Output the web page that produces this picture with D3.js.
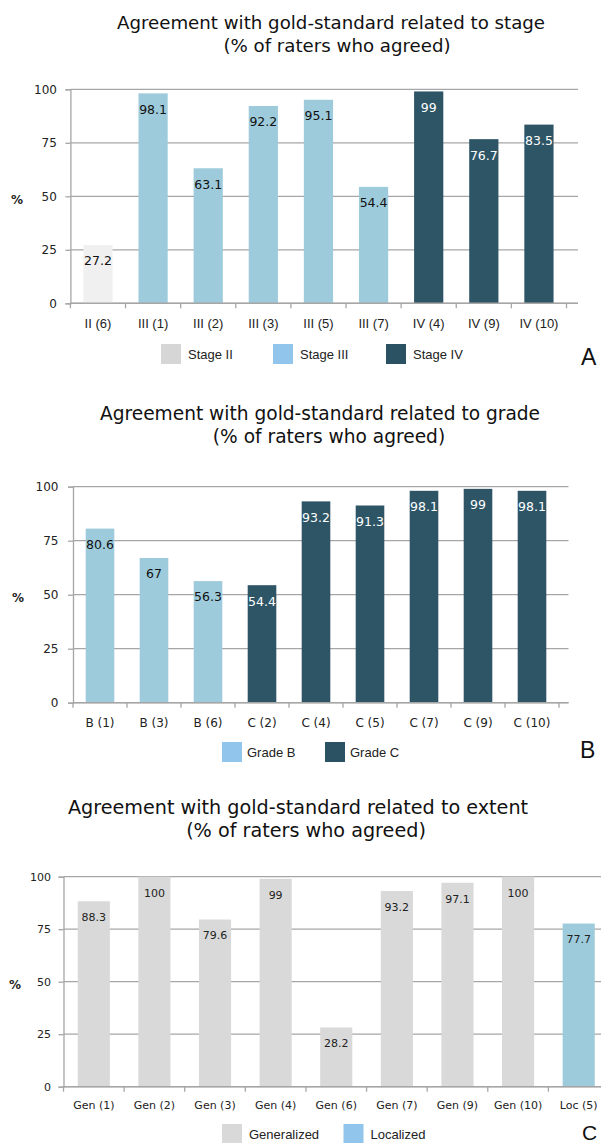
<!DOCTYPE html>
<html>
<head>
<meta charset="utf-8">
<script src="https://cdn.jsdelivr.net/npm/d3@7"></script>
<style>
  html, body { margin: 0; padding: 0; background: #fff; }
  svg { display: block; }
</style>
</head>
<body>
<div id="chart"></div>
<script>
/* Agreement with gold-standard — three bar panels (stage / grade / extent) */

const yTicks = [0, 25, 50, 75, 100];

// Panel A — stage
const stageCats   = ["II (6)", "III (1)", "III (2)", "III (3)", "III (5)", "III (7)", "IV (4)", "IV (9)", "IV (10)"];
const stageValues = [27.2, 98.1, 63.1, 92.2, 95.1, 54.4, 99, 76.7, 83.5];
const stageGroups = ["Stage II", "Stage III", "Stage III", "Stage III", "Stage III", "Stage III", "Stage IV", "Stage IV", "Stage IV"];
const stageLegend = ["Stage II", "Stage III", "Stage IV"];

// Panel B — grade
const gradeCats   = ["B (1)", "B (3)", "B (6)", "C (2)", "C (4)", "C (5)", "C (7)", "C (9)", "C (10)"];
const gradeValues = [80.6, 67, 56.3, 54.4, 93.2, 91.3, 98.1, 99, 98.1];
const gradeGroups = ["Grade B", "Grade B", "Grade B", "Grade C", "Grade C", "Grade C", "Grade C", "Grade C", "Grade C"];
const gradeLegend = ["Grade B", "Grade C"];

// Panel C — extent
const extentCats   = ["Gen (1)", "Gen (2)", "Gen (3)", "Gen (4)", "Gen (6)", "Gen (7)", "Gen (9)", "Gen (10)", "Loc (5)"];
const extentValues = [88.3, 100, 79.6, 99, 28.2, 93.2, 97.1, 100, 77.7];
const extentGroups = ["Generalized", "Generalized", "Generalized", "Generalized", "Generalized", "Generalized", "Generalized", "Generalized", "Localized"];
const extentLegend = ["Generalized", "Localized"];

// colours: bar fill, legend swatch, label colour
const STYLE = {
  "Stage II":    { bar: "#f0f0f0", swatch: "#d6d6d6", label: "#111" },
  "Stage III":   { bar: "#9ecbdb", swatch: "#92c5ec", label: "#111" },
  "Stage IV":    { bar: "#2e5566", swatch: "#2b5262", label: "#fff" },
  "Grade B":     { bar: "#9ecbdb", swatch: "#92c5ec", label: "#111" },
  "Grade C":     { bar: "#2e5566", swatch: "#2b5262", label: "#fff" },
  "Generalized": { bar: "#d9d9d9", swatch: "#d9d9d9", label: "#222" },
  "Localized":   { bar: "#9ecbdb", swatch: "#92c5ec", label: "#222" }
};

const GRID = "#a6a6a6";
const SANS = "'DejaVu Sans', Verdana, sans-serif";
const ARIAL = "'Liberation Sans', Arial, sans-serif";

const svg = d3.select("#chart").append("svg")
  .attr("width", 601)
  .attr("height", 1143);

function drawPanel(p){
  const g = svg.append("g");

  // title
  p.title.forEach((t, i) => {
    g.append("text")
      .attr("x", p.titleX[i])
      .attr("y", p.titleY[i])
      .attr("text-anchor", "middle")
      .attr("font-family", SANS)
      .attr("font-size", p.titleSize)
      .attr("fill", "#111")
      .text(t);
  });

  const x = d3.scaleBand()
    .domain(p.cats)
    .range([p.x0, p.x1])
    .paddingInner(0.47)
    .paddingOuter(0.235);

  const y = d3.scaleLinear()
    .domain([0, 100])
    .range([p.yBottom, p.yTop]);

  // gridlines (behind bars)
  g.append("g").selectAll("line")
    .data(yTicks)
    .enter().append("line")
    .attr("x1", p.x0)
    .attr("x2", p.gridEnd)
    .attr("y1", d => y(d))
    .attr("y2", d => y(d))
    .attr("stroke", GRID)
    .attr("stroke-width", 1.3);

  // y axis
  const ya = g.append("g")
    .attr("transform", `translate(${p.x0},0)`)
    .call(d3.axisLeft(y).tickValues(yTicks).tickSize(5).tickPadding(p.tickPad));
  ya.select(".domain").attr("stroke", GRID).attr("stroke-width", 1.3);
  ya.selectAll(".tick line").attr("stroke", GRID).attr("stroke-width", 1.3);
  ya.selectAll("text")
    .attr("font-family", SANS)
    .attr("font-size", p.tickSize)
    .attr("fill", "#222");

  // "%" axis title
  g.append("text")
    .attr("x", p.pctX)
    .attr("y", y(50))
    .attr("dy", "0.6em")
    .attr("text-anchor", "middle")
    .attr("font-family", SANS)
    .attr("font-size", 12)
    .attr("font-weight", "bold")
    .attr("fill", "#222")
    .text("%");

  // bars
  const data = p.cats.map((c, i) => ({ cat: c, value: p.values[i], group: p.groups[i] }));

  g.append("g").selectAll("rect")
    .data(data)
    .enter().append("rect")
    .attr("x", d => x(d.cat))
    .attr("y", d => y(d.value))
    .attr("width", x.bandwidth())
    .attr("height", d => y(0) - y(d.value))
    .attr("fill", d => STYLE[d.group].bar);

  // x axis: labels at band centres, tick marks at band edges
  const xa = g.append("g")
    .attr("transform", `translate(0,${y(0)})`)
    .call(d3.axisBottom(x).tickSize(0).tickPadding(0));
  xa.select(".domain").remove();
  xa.selectAll("text")
    .attr("y", p.xLabelOff)
    .attr("dy", "0.35em")
    .attr("font-family", p.xFont)
    .attr("font-size", p.xSize)
    .attr("fill", "#222");

  g.append("line")
    .attr("x1", p.x0)
    .attr("x2", p.gridEnd)
    .attr("y1", y(0))
    .attr("y2", y(0))
    .attr("stroke", GRID)
    .attr("stroke-width", 1.5);

  const edges = d3.range(p.cats.length + 1).map(i => p.x0 + i * x.step());
  g.append("g").selectAll("line")
    .data(edges)
    .enter().append("line")
    .attr("x1", d => d)
    .attr("x2", d => d)
    .attr("y1", y(0))
    .attr("y2", y(0) + 5)
    .attr("stroke", GRID)
    .attr("stroke-width", 1.3);

  // value labels inside bar tops
  g.append("g").selectAll("text")
    .data(data)
    .enter().append("text")
    .attr("x", d => x(d.cat) + x.bandwidth() / 2)
    .attr("y", d => y(d.value) + 16)
    .attr("dy", "0.35em")
    .attr("text-anchor", "middle")
    .attr("font-family", SANS)
    .attr("font-size", p.valueSize)
    .attr("fill", d => STYLE[d.group].label)
    .text(d => d.value);

  // legend
  const lg = g.append("g");
  p.legend.forEach((name, i) => {
    lg.append("rect")
      .attr("x", p.legendX[i])
      .attr("y", p.legendY - 10)
      .attr("width", 20)
      .attr("height", 20)
      .attr("fill", STYLE[name].swatch);
    lg.append("text")
      .attr("x", p.legendX[i] + p.legendGap)
      .attr("y", p.legendY)
      .attr("dy", "0.35em")
      .attr("font-family", ARIAL)
      .attr("font-size", 13)
      .attr("fill", "#222")
      .text(name);
  });

  // panel letter
  g.append("text")
    .attr("x", p.letterX)
    .attr("y", p.letterY)
    .attr("font-family", ARIAL)
    .attr("font-size", p.letterSize)
    .attr("fill", "#111")
    .text(p.letter);
}

drawPanel({
  title: ["Agreement with gold-standard related to stage", "(% of raters who agreed)"],
  titleX: [331, 337], titleY: [29, 51.5], titleSize: 18.2,
  cats: stageCats, values: stageValues, groups: stageGroups,
  x0: 70.4, x1: 566.5, gridEnd: 578, yTop: 89.3, yBottom: 303.3,
  tickPad: 8.5, tickSize: 12, pctX: 17,
  xLabelOff: 19.7, xFont: ARIAL, xSize: 13, valueSize: 12.5,
  legend: stageLegend, legendX: [161, 273, 386], legendY: 354, legendGap: 27,
  letter: "A", letterX: 581, letterY: 365, letterSize: 23
});

drawPanel({
  title: ["Agreement with gold-standard related to grade", "(% of raters who agreed)"],
  titleX: [320, 329], titleY: [420, 442.5], titleSize: 18.6,
  cats: gradeCats, values: gradeValues, groups: gradeGroups,
  x0: 73, x1: 559, gridEnd: 568.5, yTop: 486.7, yBottom: 702.7,
  tickPad: 9.5, tickSize: 12, pctX: 18,
  xLabelOff: 20, xFont: SANS, xSize: 12, valueSize: 12.5,
  legend: gradeLegend, legendX: [222, 325], legendY: 752, legendGap: 25,
  letter: "B", letterX: 580, letterY: 758, letterSize: 23
});

drawPanel({
  title: ["Agreement with gold-standard related to extent", "(% of raters who agreed)"],
  titleX: [298, 306], titleY: [813.5, 836.5], titleSize: 19.2,
  cats: extentCats, values: extentValues, groups: extentGroups,
  x0: 63.5, x1: 609, gridEnd: 612, yTop: 876.7, yBottom: 1086.7,
  tickPad: 7.5, tickSize: 11, pctX: 15,
  xLabelOff: 18.3, xFont: SANS, xSize: 11, valueSize: 11,
  legend: extentLegend, legendX: [222, 343.5], legendY: 1134, legendGap: 27,
  letter: "C", letterX: 582, letterY: 1140, letterSize: 21
});
</script>
</body>
</html>
